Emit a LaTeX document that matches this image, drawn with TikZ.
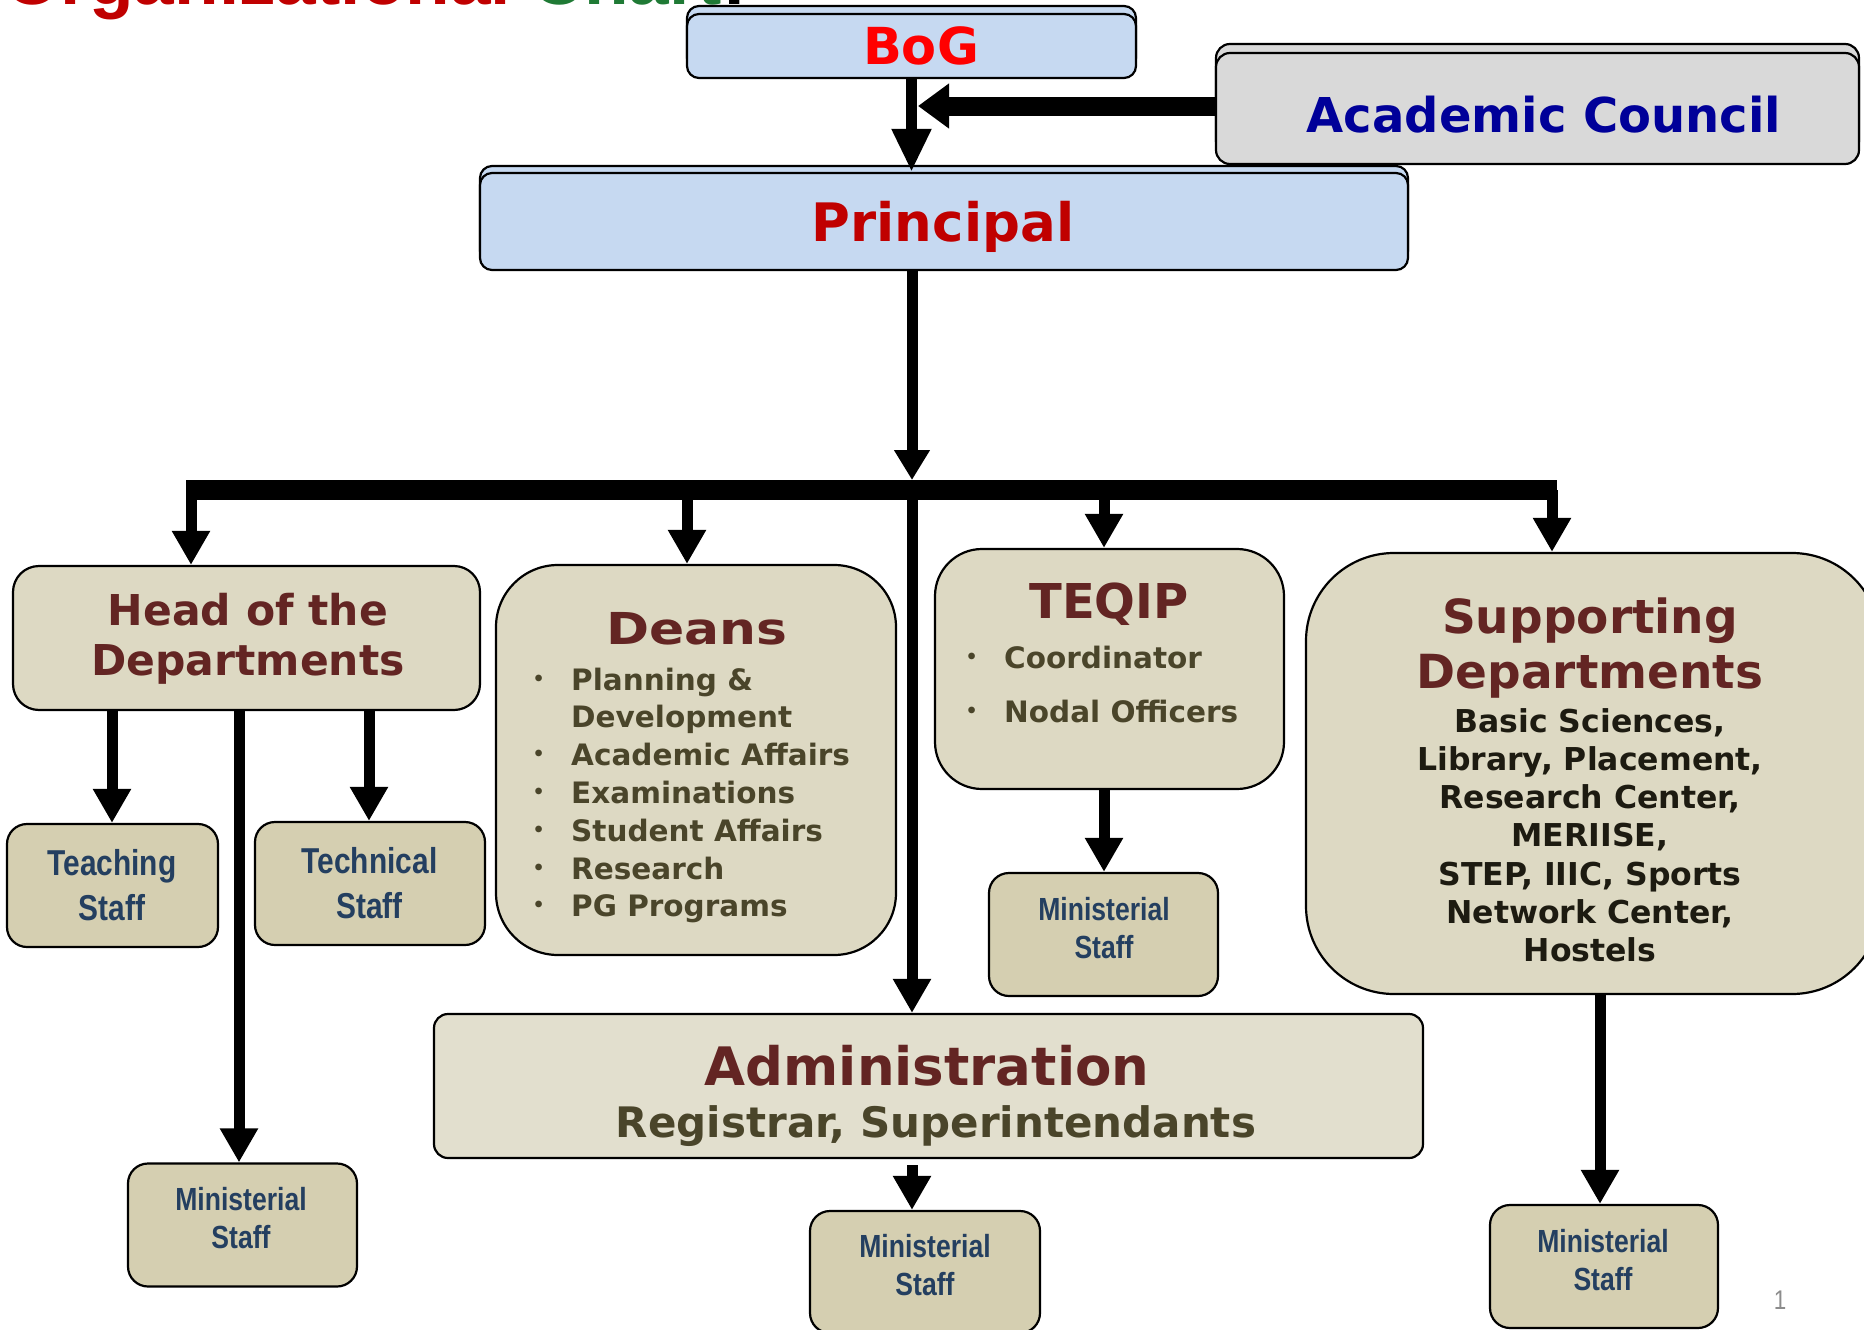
\documentclass[tikz,border=0pt]{standalone}
\usepackage{fontspec}
\usepackage{graphicx}
\setmainfont{DejaVu Sans}
\newfontfamily\dvs{DejaVu Sans}
\newfontfamily\narrowf[FakeStretch=0.83]{Liberation Sans}
\newfontfamily\arialf{Liberation Sans}
\usetikzlibrary{arrows.meta}
\newcommand\setfs[2]{\fontsize{#1}{#2}\selectfont}
\newcommand\bul{\makebox[33pt][l]{\hspace*{-5.5pt}\raisebox{5pt}{\setfs{19}{19}•}}}
\definecolor{boxblue}{HTML}{C6D9F1}
\definecolor{boxgray}{HTML}{D9D9D9}
\definecolor{beige}{HTML}{DDD9C3}
\definecolor{adminbg}{HTML}{E2DFCE}
\definecolor{staffbg}{HTML}{D5CFB1}
\definecolor{titlered}{HTML}{632523}
\definecolor{olivetxt}{HTML}{4A452A}
\definecolor{stafftxt}{HTML}{243F60}
\definecolor{darktxt}{HTML}{1D1B11}
\definecolor{bogred}{HTML}{FF0000}
\definecolor{prinred}{HTML}{C00000}
\definecolor{acblue}{HTML}{000099}
\definecolor{chartgreen}{HTML}{1F7A35}
\definecolor{pagegray}{HTML}{8C8C8C}
\tikzset{
  box/.style={draw=black, line width=2.2pt, rounded corners=#1, inner sep=0pt},
  box/.default=12pt,
  topbox/.style={box=12pt, fill=boxblue},
  staffbox/.style={box=20pt, fill=staffbg, minimum width=229pt, minimum height=123pt},
  stafftext/.style={anchor=base, inner sep=0pt, text=stafftxt, font=\narrowf\bfseries\setfs{32}{38}},
  bigstaff/.style={anchor=base, inner sep=0pt, text=stafftxt, font=\narrowf\bfseries\setfs{36}{45}},
  ttl/.style={anchor=base, inner sep=0pt, text=titlered, font=\dvs\bfseries},
  arr/.style={line width=11pt, -{Triangle[width=36pt,length=34pt]}},
}
\begin{document}
\begin{tikzpicture}[x=1pt,y=-1pt]
\useasboundingbox (0,0) rectangle (1864,1330);
\fill[white] (0,0) rectangle (1864,1330);

% title (cut off at the top, as in the original)
\node[anchor=base west, inner sep=0pt, font=\arialf\bfseries\setfs{73}{80}] (title) at (4,5)
  {\textcolor{prinred}{Organizational} \textcolor{chartgreen}{Chart}:};

% BoG
\node[topbox, minimum width=449pt, minimum height=64pt] (bogback) at (911.5,38) {};
\node[topbox, minimum width=449pt, minimum height=64pt] (bog) at (911.5,46) {};
\node[anchor=base, inner sep=0pt, text=bogred, font=\dvs\bfseries\setfs{51}{60}] (bogtxt) at (921,65) {BoG};

% Academic Council
\node[box=14pt, fill=boxgray, minimum width=643pt, minimum height=111pt] (acback) at (1537.5,99.5) {};
\node[box=14pt, fill=boxgray, minimum width=643pt, minimum height=111pt] (ac) at (1537.5,108.5) {};
\node[anchor=base, inner sep=0pt, text=acblue, font=\dvs\bfseries\setfs{48}{56}] (actxt) at (1544,132) {Academic Council};

% Principal
\node[topbox, minimum width=928pt, minimum height=97pt] (prinback) at (944,214.5) {};
\node[topbox, minimum width=928pt, minimum height=97pt] (principal) at (944,221.5) {};
\node[anchor=base, inner sep=0pt, text=prinred, font=\dvs\bfseries\setfs{53}{62}] (printxt) at (943,241) {Principal};

% Head of the Departments
\node[box=26pt, fill=beige, minimum width=467pt, minimum height=144pt] (hod) at (246.5,638) {};
\node[ttl, font=\dvs\bfseries\setfs{42.5}{50}] (hodtxt) at (248,625)
  {\begin{tabular}[t]{@{}c@{}}Head of the\\Departments\end{tabular}};

\node[staffbox, minimum width=211pt] (teach) at (112.5,885.5) {};
\node[bigstaff] (teachtxt) at (112,875) {\begin{tabular}[t]{@{}c@{}}Teaching\\Staff\end{tabular}};
\node[staffbox, minimum width=230pt] (tech) at (370,883.5) {};
\node[bigstaff] (techtxt) at (369.5,873) {\begin{tabular}[t]{@{}c@{}}Technical\\Staff\end{tabular}};
\node[staffbox] (min1) at (242.5,1225) {};
\node[stafftext] (min1txt) at (241,1210) {\begin{tabular}[t]{@{}c@{}}Ministerial\\Staff\end{tabular}};

% Deans
\node[box=62pt, fill=beige, minimum width=400pt, minimum height=390pt] (deans) at (696,760) {};
\node[ttl, font=\dvs\bfseries\setfs{44}{50}] (deanstxt) at (697,644) {\scalebox{1.18}[1]{Deans}};
\node[anchor=base west, inner sep=0pt, text=olivetxt, font=\dvs\bfseries\setfs{29.5}{37.8}] (deanslist) at (538,690)
  {\begin{tabular}[t]{@{}l@{}}\bul Planning \&\\\hspace*{33pt}Development\\\bul Academic Affairs\\\bul Examinations\\\bul Student Affairs\\\bul Research\\\bul PG Programs\end{tabular}};

% TEQIP
\node[box=47pt, fill=beige, minimum width=349pt, minimum height=240pt] (teqip) at (1109.5,669) {};
\node[ttl, font=\dvs\bfseries\setfs{48}{56}] (teqiptxt) at (1109,618) {TEQIP};
\node[anchor=base west, inner sep=0pt, text=olivetxt, font=\dvs\bfseries\setfs{29.5}{54}] (teqiplist) at (971,668)
  {\begin{tabular}[t]{@{}l@{}}\bul Coordinator\\\bul Nodal Officers\end{tabular}};
\node[staffbox] (min2) at (1103.5,934.5) {};
\node[stafftext] (min2txt) at (1104,920) {\begin{tabular}[t]{@{}c@{}}Ministerial\\Staff\end{tabular}};

% Supporting Departments
\node[box=88pt, fill=beige, minimum width=574pt, minimum height=441pt] (supp) at (1593,773.5) {};
\node[ttl, font=\dvs\bfseries\setfs{47}{55}] (supptxt) at (1590,633)
  {\begin{tabular}[t]{@{}c@{}}Supporting\\Departments\end{tabular}};
\node[anchor=base, inner sep=0pt, text=darktxt, font=\dvs\bfseries\setfs{31.5}{38.3}] (supplist) at (1590,732)
  {\begin{tabular}[t]{@{}c@{}}Basic Sciences,\\Library, Placement,\\Research Center,\\MERIISE,\\STEP, IIIC, Sports\\Network Center,\\Hostels\end{tabular}};
\node[staffbox, minimum width=228pt] (min3) at (1604,1266.5) {};
\node[stafftext] (min3txt) at (1603,1252) {\begin{tabular}[t]{@{}c@{}}Ministerial\\Staff\end{tabular}};

% Administration
\node[box=14pt, fill=adminbg, minimum width=989pt, minimum height=144pt] (admin) at (928.5,1086) {};
\node[ttl, font=\dvs\bfseries\setfs{53}{60}] (admintxt) at (927,1085) {Administration};
\node[anchor=base, inner sep=0pt, text=olivetxt, font=\dvs\bfseries\setfs{42}{50}] (regtxt) at (936,1137) {Registrar, Superintendants};
\node[staffbox, minimum width=230pt, minimum height=122pt] (min4) at (925,1272) {};
\node[stafftext] (min4txt) at (925,1257) {\begin{tabular}[t]{@{}c@{}}Ministerial\\Staff\end{tabular}};

% page number
\node[anchor=base, inner sep=0pt, text=pagegray, font=\narrowf\setfs{27}{30}] (pagenum) at (1780,1309) {1};

% connectors
\coordinate (acjoin) at (918,106);
\draw[line width=19pt, -{Triangle[width=43pt,length=31pt]}] (ac.west |- acjoin) -- (acjoin);
\draw[arr, -{Triangle[width=37pt,length=43pt]}] (bog.south) -- (bog.south |- principal.north);
\coordinate (busC) at (912,480);
\draw[arr, -{Triangle[width=34pt,length=30pt]}] (busC |- principal.south) -- (busC);
\coordinate (busL) at (186,490);
\coordinate (busR) at (1557,490);
\draw[line width=20pt] (busL) -- (busR);
\coordinate (dH) at (191,490);
\coordinate (dD) at (687,490);
\coordinate (dT) at (1104,490);
\coordinate (dS) at (1552,490);
\draw[arr] (dH) -- (dH |- hod.north);
\draw[arr] (dD) -- (dD |- deans.north);
\draw[arr] (dT) -- (dT |- teqip.north);
\draw[arr] (dS) -- (dS |- supp.north);
\draw[arr] (busC) -- (busC |- admin.north);
\coordinate (tA) at (112,700);
\draw[arr] (tA |- hod.south) -- (tA |- teach.north);
\coordinate (tB) at (369,700);
\draw[arr] (tB |- hod.south) -- (tB |- tech.north);
\coordinate (tC) at (239,700);
\draw[arr] (tC |- hod.south) -- (tC |- min1.north);
\draw[arr] (dT |- teqip.south) -- (dT |- min2.north);
\coordinate (sM) at (1600,1000);
\draw[arr] (sM |- supp.south) -- (sM |- min3.north);
\coordinate (adminOut) at ([yshift=-6pt]admin.south);
\draw[arr] (busC |- adminOut) -- (busC |- min4.north);
\end{tikzpicture}
\end{document}
